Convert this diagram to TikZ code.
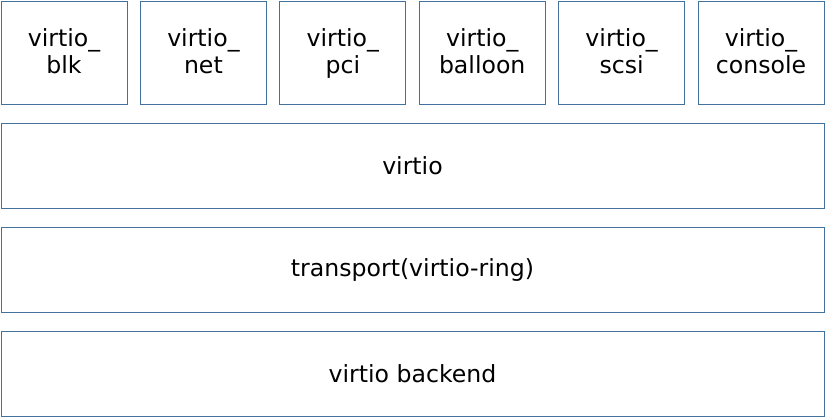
\documentclass[tikz,border=0pt]{standalone}
\usepackage{fontspec}
\setmainfont{DejaVu Sans}
\usetikzlibrary{positioning}
\definecolor{layerblue}{HTML}{41719C}
\tikzset{
    block/.style={
           rectangle,
           draw=layerblue,
           line width=0.9pt,
           inner sep=0pt,
           outer sep=0pt,
           align=center,
           font=\fontsize{23.6pt}{27pt}\selectfont,
           },
    driver/.style={
           block,
           minimum width=126pt,
           minimum height=103pt,
           text depth=2pt,
           },
    layer/.style={
           block,
           minimum width=823pt,
           minimum height=85pt,
           },
}

\begin{document}
\begin{tikzpicture}[x=1pt,y=-1pt]
 \useasboundingbox (0,0) rectangle (825,417);

 \node[driver] (BLK) at (64,52.5) {virtio\_\\blk};
 \node[driver, right=13.4pt of BLK] (NET) {virtio\_\\net};
 \node[driver, right=13.4pt of NET] (PCI) {virtio\_\\pci};
 \node[driver, right=13.4pt of PCI] (BALLOON) {virtio\_\\balloon};
 \node[driver, right=13.4pt of BALLOON] (SCSI) {virtio\_\\scsi};
 \node[driver, right=13.4pt of SCSI] (CONSOLE) {virtio\_\\console};

 \node[layer] (VIRTIO) at (412.5,165.5) {virtio};
 \node[layer, below=19pt of VIRTIO] (TRANSPORT) {transport(virtio-ring)};
 \node[layer, below=19pt of TRANSPORT] (BACKEND) {virtio backend};
\end{tikzpicture}
\end{document}
